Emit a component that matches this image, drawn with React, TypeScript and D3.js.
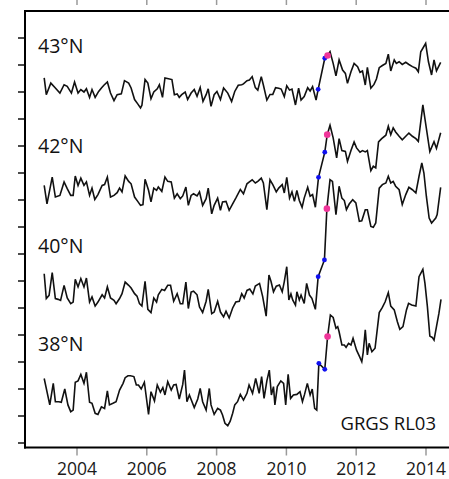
import { useEffect, useRef } from 'react'
import * as d3 from 'd3'

type Pt = [number, number]

// x in decimal years, y in axis units (one unit per left tick)
const YEAR_TICKS = [2004, 2006, 2008, 2010, 2012, 2014]
const LEVEL_TICKS = [0, 1, 2, 3, 4, 5, 6, 7, 8, 9, 10, 11, 12, 13, 14, 15]
const LAT_LABELS = ['43°N', '42°N', '40°N', '38°N']
const SOURCE_LABEL = 'GRGS RL03'

const N43: Pt[] = [
  [2003.06,13.52],[2003.12,12.90],[2003.25,13.33],[2003.38,13.15],[2003.51,12.96],[2003.63,13.27],[2003.72,13.21],[2003.84,12.96],[2003.93,13.37],[2004.03,12.96],
  [2004.11,13.09],[2004.20,13.00],[2004.27,13.12],[2004.36,12.80],[2004.43,13.09],[2004.52,12.80],[2004.62,13.02],[2004.70,13.15],[2004.77,13.25],[2004.87,13.37],
  [2004.96,12.96],[2005.06,12.68],[2005.15,12.90],[2005.27,12.93],[2005.36,13.42],[2005.48,13.33],[2005.55,13.15],[2005.65,12.72],[2005.74,12.56],[2005.82,12.41],
  [2005.86,12.51],[2005.95,13.46],[2006.03,13.33],[2006.12,12.75],[2006.20,13.00],[2006.30,13.12],[2006.36,13.27],[2006.45,12.80],[2006.52,13.52],[2006.62,13.49],
  [2006.72,13.46],[2006.79,12.90],[2006.87,12.93],[2006.93,12.80],[2007.00,12.90],[2007.10,13.00],[2007.17,12.72],[2007.27,12.96],[2007.36,13.09],[2007.44,12.84],
  [2007.53,13.17],[2007.61,12.65],[2007.70,12.90],[2007.76,13.12],[2007.84,12.47],[2007.93,12.90],[2008.01,13.02],[2008.11,12.72],[2008.20,13.15],[2008.32,12.96],
  [2008.43,12.65],[2008.52,13.02],[2008.62,13.25],[2008.72,13.27],[2008.77,13.30],[2008.87,13.42],
  [2008.94,13.44],[2009.02,13.57],[2009.11,13.16],[2009.18,13.07],[2009.28,13.57],[2009.34,13.26],[2009.44,12.70],[2009.53,12.91],[2009.61,12.91],[2009.69,13.16],
  [2009.78,13.14],[2009.85,13.11],[2009.94,12.83],[2010.01,13.23],[2010.09,13.07],[2010.16,13.11],[2010.26,12.52],[2010.35,13.14],[2010.42,12.70],[2010.51,12.83],
  [2010.61,13.16],[2010.68,13.04],[2010.75,13.20],[2010.85,12.70],[2010.91,13.10],[2011.10,14.25],[2011.18,14.35],[2011.25,14.49],[2011.34,14.06],[2011.42,13.60],
  [2011.51,14.19],[2011.61,13.81],[2011.69,13.69],[2011.75,13.32],[2011.85,13.75],[2011.94,14.06],[2012.04,13.94],[2012.11,13.73],[2012.18,13.78],[2012.26,13.26],
  [2012.32,13.91],[2012.42,13.14],[2012.51,13.28],[2012.58,13.48],[2012.66,13.90],[2012.75,13.98],[2012.85,14.06],[2012.92,14.40],[2012.99,13.78],[2013.09,14.19],
  [2013.15,14.06],[2013.23,14.12],[2013.32,14.02],[2013.42,14.10],[2013.51,14.02],[2013.61,13.94],[2013.71,13.88],[2013.78,13.75],[2013.85,14.49],[2013.91,14.62],
  [2013.99,14.80],[2014.07,14.12],[2014.16,13.63],[2014.23,14.19],[2014.30,13.78],[2014.42,14.10],
]

const N42: Pt[] = [
  [2003.06,9.54],[2003.14,8.86],[2003.29,9.85],[2003.38,9.11],[2003.51,9.17],[2003.63,9.67],[2003.72,9.42],[2003.82,9.17],[2003.89,9.17],[2003.95,9.89],
  [2004.03,9.54],[2004.11,9.81],[2004.20,9.54],[2004.27,9.67],[2004.36,9.17],[2004.43,9.44],[2004.51,9.02],[2004.60,9.20],[2004.72,9.54],[2004.79,9.57],
  [2004.87,9.85],[2004.96,9.11],[2005.06,9.17],[2005.15,9.27],[2005.22,9.44],[2005.29,9.30],[2005.38,9.89],[2005.48,9.69],[2005.55,9.60],[2005.65,9.11],
  [2005.74,8.95],[2005.82,8.80],[2005.89,8.83],[2005.95,9.77],[2006.05,9.36],[2006.12,8.93],[2006.20,9.44],[2006.28,9.36],[2006.33,9.48],[2006.43,9.32],
  [2006.52,9.85],[2006.60,9.69],[2006.70,9.67],[2006.79,9.07],[2006.87,9.23],[2006.96,9.05],[2007.03,9.15],[2007.12,9.48],[2007.19,8.80],[2007.27,9.17],
  [2007.34,9.23],[2007.44,9.15],[2007.51,9.30],[2007.60,8.80],[2007.70,9.05],[2007.76,9.44],[2007.86,8.49],[2007.93,8.80],[2008.03,9.07],[2008.11,8.62],
  [2008.17,8.93],[2008.27,8.95],[2008.36,8.62],[2008.46,8.86],[2008.55,9.07],[2008.68,9.39],[2008.77,9.23],[2008.87,9.60],
  [2008.94,9.67],[2009.02,9.75],[2009.11,9.63],[2009.18,9.69],[2009.28,9.81],[2009.34,9.63],[2009.44,8.64],[2009.53,9.75],[2009.61,9.57],[2009.71,9.30],
  [2009.78,9.44],[2009.88,9.57],[2009.94,9.26],[2010.01,9.84],[2010.09,9.07],[2010.16,9.30],[2010.23,8.95],[2010.30,9.35],[2010.37,8.98],[2010.45,8.73],
  [2010.51,9.07],[2010.61,9.47],[2010.68,9.14],[2010.75,9.20],[2010.83,8.73],[2010.92,9.84],[2011.10,10.77],[2011.17,11.42],[2011.25,11.77],[2011.34,11.30],
  [2011.44,10.56],[2011.51,11.27],[2011.59,10.83],[2011.69,10.80],[2011.75,10.43],[2011.85,10.83],[2011.94,11.15],[2012.01,10.93],[2012.11,10.77],[2012.18,10.83],
  [2012.26,10.78],[2012.32,10.83],[2012.42,10.09],[2012.49,10.25],[2012.56,10.19],[2012.64,11.15],[2012.73,11.27],[2012.85,11.40],[2012.92,11.73],[2012.99,11.42],
  [2013.06,11.67],[2013.13,11.52],[2013.23,11.36],[2013.32,11.23],[2013.42,11.36],[2013.51,11.48],[2013.61,11.36],[2013.71,11.27],[2013.78,11.17],[2013.91,12.52],
  [2014.11,10.79],[2014.23,11.16],[2014.30,10.91],[2014.42,11.49],
]

const N40: Pt[] = [
  [2003.06,6.27],[2003.12,5.35],[2003.20,5.47],[2003.29,6.31],[2003.38,5.35],[2003.46,5.32],[2003.53,5.28],[2003.63,5.84],[2003.72,5.37],[2003.82,5.16],
  [2003.89,5.22],[2003.95,6.06],[2004.03,5.78],[2004.11,6.09],[2004.20,5.78],[2004.27,6.11],[2004.36,5.22],[2004.43,5.41],[2004.52,5.07],[2004.60,5.22],
  [2004.72,5.49],[2004.79,5.37],[2004.87,5.78],[2004.96,5.37],[2005.06,5.28],[2005.12,5.16],[2005.22,5.35],[2005.29,5.53],[2005.38,5.96],[2005.48,5.84],
  [2005.55,5.74],[2005.65,5.53],[2005.72,5.44],[2005.79,5.16],[2005.86,5.07],[2005.95,5.99],[2006.03,4.95],[2006.12,4.83],[2006.20,5.37],[2006.28,5.22],
  [2006.33,5.49],[2006.43,5.69],[2006.51,5.65],[2006.60,5.84],[2006.68,5.84],[2006.77,5.25],[2006.87,5.53],[2006.96,5.16],[2007.03,5.16],[2007.12,5.96],
  [2007.19,4.98],[2007.27,5.59],[2007.34,5.62],[2007.44,5.49],[2007.51,5.04],[2007.60,4.83],[2007.70,5.25],[2007.76,5.69],[2007.86,4.79],[2007.93,4.85],
  [2008.03,5.25],[2008.11,4.85],[2008.20,4.67],[2008.27,4.88],[2008.36,4.63],[2008.46,5.00],[2008.55,5.22],[2008.65,5.25],[2008.72,5.53],[2008.79,5.37],
  [2008.87,5.65],[2008.95,5.70],
  [2009.04,5.52],[2009.11,5.81],[2009.23,5.91],[2009.32,5.42],[2009.42,4.70],[2009.50,6.22],[2009.56,5.98],[2009.63,5.60],[2009.71,5.81],[2009.80,5.85],
  [2009.88,5.60],[2009.94,5.98],[2010.01,6.53],[2010.07,5.30],[2010.13,5.52],[2010.18,5.30],[2010.26,5.11],[2010.30,5.60],[2010.37,5.30],[2010.42,5.48],
  [2010.51,5.17],[2010.58,5.91],[2010.66,5.48],[2010.73,5.36],[2010.83,4.95],[2010.91,6.16],[2011.09,6.78],[2011.16,8.68],[2011.25,9.75],[2011.32,9.69],
  [2011.42,8.46],[2011.51,9.51],[2011.59,9.07],[2011.66,8.98],[2011.72,8.64],[2011.80,8.85],[2011.90,9.01],[2011.99,8.89],[2012.09,8.21],[2012.16,8.23],
  [2012.26,8.64],[2012.32,8.64],[2012.42,8.02],[2012.49,7.99],[2012.56,8.15],[2012.66,9.44],[2012.75,9.57],[2012.85,9.63],[2012.92,9.88],[2012.99,9.63],
  [2013.06,9.69],[2013.13,9.51],[2013.23,9.38],[2013.32,8.83],[2013.42,9.20],[2013.51,9.47],[2013.61,9.38],[2013.71,9.26],[2013.80,9.88],[2013.88,10.37],
  [2013.94,10.00],[2014.01,9.14],[2014.09,8.33],[2014.16,8.15],[2014.28,8.33],[2014.32,8.46],[2014.42,9.47],
]

const N38: Pt[] = [
  [2003.06,2.39],[2003.22,1.41],[2003.32,2.21],[2003.38,1.53],[2003.48,1.53],[2003.55,1.51],[2003.65,2.00],[2003.74,1.41],[2003.82,1.16],[2003.89,1.22],
  [2003.95,2.25],[2004.03,2.30],[2004.11,2.54],[2004.20,2.21],[2004.27,2.62],[2004.36,1.51],[2004.43,1.47],[2004.52,1.10],[2004.60,1.06],[2004.70,1.34],
  [2004.79,1.28],[2004.87,1.93],[2004.93,1.41],[2005.03,1.47],[2005.12,1.53],[2005.22,1.96],[2005.32,2.21],[2005.38,2.42],[2005.46,2.49],[2005.53,2.49],
  [2005.63,2.46],[2005.70,2.15],[2005.76,2.15],[2005.84,2.00],[2005.93,2.25],[2006.05,1.06],[2006.12,1.90],[2006.22,1.56],[2006.30,2.15],[2006.39,1.88],
  [2006.46,2.05],[2006.52,1.78],[2006.60,2.27],[2006.70,1.96],[2006.77,2.15],[2006.84,2.17],[2006.93,1.63],[2007.03,2.17],[2007.08,2.70],[2007.15,1.53],
  [2007.22,1.78],[2007.36,1.31],[2007.46,1.63],[2007.53,2.02],[2007.60,1.53],[2007.70,1.22],[2007.79,2.02],[2007.84,1.41],[2007.93,1.06],[2008.03,1.28],
  [2008.11,1.22],[2008.17,1.04],[2008.24,0.73],[2008.32,0.64],[2008.39,0.81],[2008.46,1.10],[2008.52,1.41],[2008.60,1.53],[2008.68,1.80],[2008.77,1.59],
  [2008.87,1.84],[2008.93,2.15],[2009.03,1.84],[2009.12,2.39],[2009.22,1.84],[2009.29,2.46],[2009.36,1.65],[2009.44,2.30],[2009.51,2.70],[2009.57,1.78],
  [2009.63,2.09],[2009.67,1.41],[2009.74,2.09],[2009.84,2.30],[2009.92,2.21],[2009.98,1.41],[2010.05,2.54],[2010.12,1.65],[2010.20,1.78],[2010.30,1.80],
  [2010.39,1.90],[2010.46,1.53],[2010.52,1.80],[2010.60,2.21],[2010.68,1.78],[2010.74,2.00],[2010.81,1.28],[2010.87,1.22],[2010.93,2.95],[2011.10,2.73],
  [2011.18,3.94],[2011.26,4.74],[2011.34,4.65],[2011.42,4.25],[2011.47,4.31],[2011.51,4.12],[2011.59,3.63],[2011.66,3.63],[2011.71,3.54],[2011.78,3.69],
  [2011.85,3.63],[2011.91,3.88],[2012.01,3.44],[2012.09,3.22],[2012.16,3.01],[2012.20,3.35],[2012.26,4.19],[2012.32,3.26],[2012.37,3.69],[2012.45,3.38],
  [2012.54,3.51],[2012.66,4.83],[2012.75,5.02],[2012.83,5.23],[2012.92,5.57],[2012.99,5.07],[2013.09,4.93],[2013.18,4.49],[2013.25,4.21],[2013.34,4.31],
  [2013.44,4.93],[2013.50,5.17],[2013.59,5.11],[2013.71,5.07],[2013.80,6.16],[2013.91,6.43],[2013.97,5.91],[2014.04,5.05],[2014.11,3.96],[2014.18,3.91],
  [2014.23,3.81],[2014.30,4.31],[2014.37,4.80],[2014.43,5.32],
]

// samples flagged before the event (blue) and the first one after it (pink)
const BLUE_DOTS: Pt[] = [
  [2010.91,13.10],[2011.10,14.25],[2010.92,9.84],[2011.10,10.77],
  [2010.91,6.16],[2011.09,6.78],[2010.93,2.95],[2011.10,2.73],
]
const PINK_DOTS: Pt[] = [[2011.18,14.35],[2011.17,11.42],[2011.16,8.68],[2011.18,3.94]]

const W = 449
const H = 479
const LEFT = 25
const TOP = 11
const BOTTOM = 447.5
// baselines of the latitude labels, in px
const LABEL_Y = [53, 153, 253, 351]

export default function App() {
  const svgRef = useRef<SVGSVGElement>(null)

  useEffect(() => {
    const svg = d3.select(svgRef.current)
    svg.selectAll('*').remove()

    const x = d3.scaleLinear().domain([2004, 2014]).range([77, 426])
    const y = d3.scaleLinear().domain([0, 16]).range([443, 11])

    const font = '"Open Sans", "DejaVu Sans", sans-serif'

    // ticks of the panel above (cut off at the top edge)
    svg.append('g')
      .selectAll('line')
      .data(YEAR_TICKS)
      .join('line')
      .attr('x1', d => x(d)).attr('x2', d => x(d))
      .attr('y1', 0).attr('y2', 5)
      .attr('stroke', '#9a9a9a')
      .attr('stroke-width', 1.5)

    // bottom year ticks + labels
    const xAxis = svg.append('g')
    xAxis.selectAll('line')
      .data(YEAR_TICKS)
      .join('line')
      .attr('x1', d => x(d)).attr('x2', d => x(d))
      .attr('y1', BOTTOM).attr('y2', BOTTOM + 8)
      .attr('stroke', '#9a9a9a')
      .attr('stroke-width', 1.5)
    xAxis.selectAll('text')
      .data(YEAR_TICKS)
      .join('text')
      .attr('x', d => x(d))
      .attr('y', 474.5)
      .attr('text-anchor', 'middle')
      .attr('font-family', font)
      .attr('font-size', 17.5)
      .attr('fill', '#1a1a1a')
      .text(d => String(d))

    // left ticks (no labels)
    svg.append('g')
      .selectAll('line')
      .data(LEVEL_TICKS)
      .join('line')
      .attr('x1', LEFT - 7).attr('x2', LEFT)
      .attr('y1', d => y(d)).attr('y2', d => y(d))
      .attr('stroke', '#111')
      .attr('stroke-width', 1.5)

    // frame
    const frame = svg.append('g').attr('stroke', '#000').attr('stroke-width', 2).attr('fill', 'none')
    frame.append('line').attr('x1', LEFT).attr('x2', LEFT).attr('y1', TOP - 1).attr('y2', BOTTOM + 1)
    frame.append('line').attr('x1', LEFT - 1).attr('x2', W).attr('y1', TOP).attr('y2', TOP)
    frame.append('line').attr('x1', LEFT - 1).attr('x2', W).attr('y1', BOTTOM).attr('y2', BOTTOM)

    // series
    const line = d3.line<Pt>()
      .x(d => x(d[0]))
      .y(d => y(d[1]))

    svg.append('g')
      .selectAll('path')
      .data([N43, N42, N40, N38])
      .join('path')
      .attr('d', d => line(d))
      .attr('fill', 'none')
      .attr('stroke', '#111')
      .attr('stroke-width', 1.6)
      .attr('stroke-linejoin', 'miter')

    svg.append('g')
      .selectAll('circle')
      .data(BLUE_DOTS)
      .join('circle')
      .attr('cx', d => x(d[0]))
      .attr('cy', d => y(d[1]))
      .attr('r', 2.4)
      .attr('fill', '#1010f0')

    svg.append('g')
      .selectAll('circle')
      .data(PINK_DOTS)
      .join('circle')
      .attr('cx', d => x(d[0]))
      .attr('cy', d => y(d[1]))
      .attr('r', 3.3)
      .attr('fill', '#f0359a')

    // latitude labels
    svg.append('g')
      .selectAll('text')
      .data(LAT_LABELS)
      .join('text')
      .attr('x', 38)
      .attr('y', (_, i) => LABEL_Y[i])
      .attr('font-family', font)
      .attr('font-size', 19.5)
      .attr('fill', '#111')
      .text(d => d)

    svg.append('text')
      .attr('x', 436)
      .attr('y', 430)
      .attr('text-anchor', 'end')
      .attr('font-family', font)
      .attr('font-size', 18.5)
      .attr('fill', '#111')
      .text(SOURCE_LABEL)
  }, [])

  return (
    <div style={{ position: 'absolute', left: 0, top: 0, width: W, height: H, background: '#fff' }}>
      <svg ref={svgRef} width={W} height={H} style={{ display: 'block' }} />
    </div>
  )
}
